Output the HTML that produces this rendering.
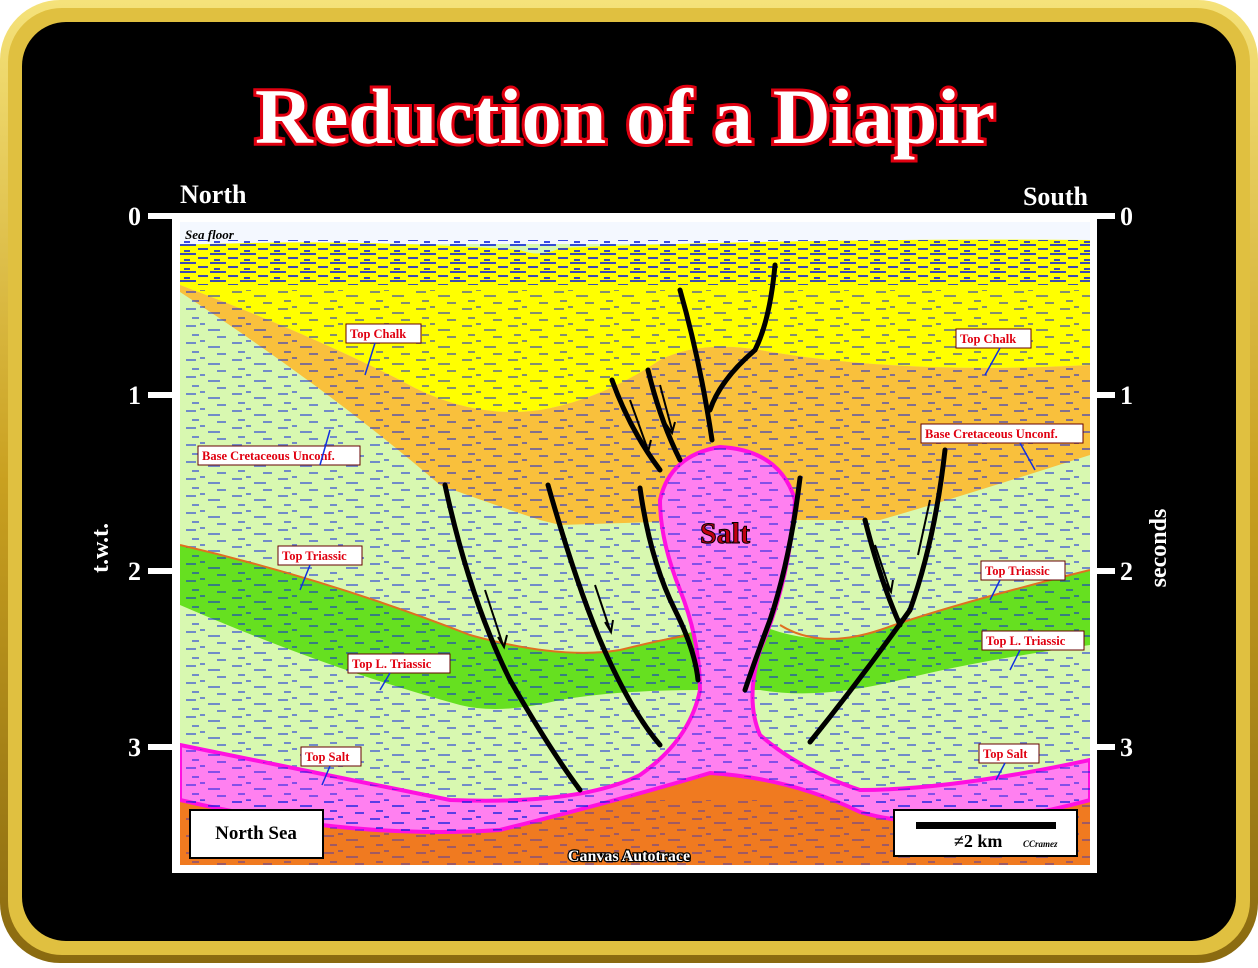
<!DOCTYPE html>
<html><head><meta charset="utf-8"><style>
html,body{margin:0;padding:0;background:#fff;}
body{width:1258px;height:963px;overflow:hidden;}
</style></head><body>
<svg width="1258" height="963" viewBox="0 0 1258 963" xmlns="http://www.w3.org/2000/svg" font-family="Liberation Serif, serif">
<defs>
<linearGradient id="gold" x1="0" y1="0" x2="0" y2="1">
<stop offset="0" stop-color="#f5e27a"/><stop offset="0.5" stop-color="#c9a020"/><stop offset="1" stop-color="#8a6a10"/>
</linearGradient>
<pattern id="noise" width="46" height="17" patternUnits="userSpaceOnUse">
<path d="M2 3h10M24 7h12M8 12h7M33 14h9M16 1h5" stroke="#0a1ee0" stroke-width="2"/>
</pattern>
<pattern id="noise2" width="30" height="9" patternUnits="userSpaceOnUse">
<path d="M0 2h16M18 6h10M4 8h6" stroke="#0a1ee0" stroke-width="2"/>
</pattern>
<clipPath id="c"><rect x="180" y="222" width="910" height="643"/></clipPath>
</defs>
<rect x="0" y="0" width="1258" height="963" rx="60" fill="url(#gold)"/>
<rect x="8" y="8" width="1242" height="947" rx="54" fill="#e0c040"/>
<rect x="22" y="22" width="1214" height="919" rx="44" fill="#000"/>
<text x="625" y="143" text-anchor="middle" font-size="78" font-weight="bold" fill="#fff" stroke="#e00010" stroke-width="6" paint-order="stroke" textLength="740" lengthAdjust="spacingAndGlyphs">Reduction of a Diapir</text>
<text x="180" y="203" font-size="26" font-weight="bold" fill="#fff">North</text>
<text x="1088" y="205" font-size="26" font-weight="bold" fill="#fff" text-anchor="end">South</text>
<rect x="172" y="213" width="925" height="660" fill="#fff"/>
<g clip-path="url(#c)">
<rect x="180" y="222" width="910" height="643" fill="#d8f8b0"/>
<rect x="180" y="222" width="910" height="22" fill="#f4f8ff"/>
<path d="M180 245 Q350 238 520 250 Q540 258 560 248 Q800 238 1090 240 L1090 365 Q900 375 760 350 Q700 340 660 360 Q600 400 540 410 Q470 420 400 380 Q300 330 180 285 Z" fill="#ffff00"/>
<rect x="180" y="240" width="910" height="45" fill="url(#noise2)" opacity="0.8"/>
<path d="M180 285 Q300 330 400 380 Q470 420 540 410 Q600 400 660 360 Q700 340 760 350 Q900 375 1090 365 L1090 455 Q950 500 880 520 Q800 520 720 520 L560 525 L540 520 Q480 500 440 485 Q330 390 180 292 Z" fill="#f9c03c"/>
<path d="M180 545 Q330 580 470 635 Q560 660 620 650 Q660 640 700 630 L760 625 Q820 650 880 630 Q950 605 1090 570 L1090 645 Q980 660 900 680 Q820 700 760 690 L700 690 Q620 690 560 700 Q500 715 460 705 Q330 670 180 605 Z" fill="#66e020"/>
<rect x="180" y="290" width="910" height="575" fill="url(#noise)" opacity="0.5"/>
<path d="M180 800 Q350 840 500 830 Q620 800 710 773 Q790 778 860 812 Q950 838 1090 800 L1090 865 L180 865 Z" fill="#f07a20"/>
<path d="M180 745 Q300 770 450 800 Q580 805 640 775 Q690 740 700 690 Q700 640 680 590 Q660 540 660 500 Q670 455 720 447 Q780 450 795 500 Q790 580 760 650 Q745 700 760 735 Q800 770 860 790 Q950 790 1090 760 L1090 800 Q950 838 860 812 Q790 778 710 773 Q620 800 500 830 Q350 840 180 800 Z" fill="#ff80f0" stroke="#ff10e0" stroke-width="4"/>
<path d="M180 745 Q300 770 450 800 Q580 805 640 775 Q690 740 700 690 Q700 640 680 590 Q660 540 660 500 Q670 455 720 447 Q780 450 795 500 Q790 580 760 650 Q745 700 760 735 Q800 770 860 790 Q950 790 1090 760 L1090 800 Q950 838 860 812 Q790 778 710 773 Q620 800 500 830 Q350 840 180 800 Z" fill="url(#noise)" opacity="0.5"/>
<rect x="180" y="800" width="910" height="65" fill="url(#noise)" opacity="0.35"/>
<path d="M180 545 Q330 580 470 635 Q560 660 620 650 Q660 640 690 635" stroke="#e07020" stroke-width="2" fill="none"/>
<path d="M780 625 Q820 650 880 630 Q950 605 1090 570" stroke="#e07020" stroke-width="2" fill="none"/>
</g>
<g stroke="#000" stroke-width="5" fill="none" stroke-linecap="round">
<path d="M680 290 Q700 360 712 440"/>
<path d="M775 265 Q770 320 755 350 Q720 380 710 410"/>
<path d="M612 380 Q630 430 660 470"/>
<path d="M648 370 Q660 420 680 460"/>
<path d="M640 488 Q650 560 675 610 Q695 650 698 680"/>
<path d="M800 478 Q790 560 770 620 Q755 660 745 690"/>
<path d="M445 485 Q470 600 510 680 Q550 750 580 790"/>
<path d="M548 485 Q575 580 600 640 Q630 710 660 745"/>
<path d="M865 520 Q880 580 900 625"/>
<path d="M945 450 Q935 540 910 610 Q860 680 810 742"/>
</g>
<g stroke="#000" stroke-width="2" fill="none">
<path d="M630 400 L648 450 M642 442 L648 452 L651 440"/>
<path d="M660 385 L672 430 M666 424 L672 433 L675 422"/>
<path d="M485 590 L503 645 M498 637 L504 647 L507 635"/>
<path d="M595 585 L610 630 M605 622 L611 632 L613 620"/>
<path d="M875 545 L890 590 M885 583 L891 592 L893 580"/>
<path d="M930 500 L918 555"/>
</g>
<text x="725" y="543" text-anchor="middle" font-size="30" font-weight="bold" fill="#c00010" stroke="#000" stroke-width="1">Salt</text>
<text x="185" y="239" font-size="13" font-weight="bold" font-style="italic" fill="#000">Sea floor</text>
<g font-size="12.5" font-weight="bold" fill="#e00010">
<rect x="346" y="324" width="75" height="19" fill="#fff" stroke="#600" stroke-width="1"/><text x="350" y="338">Top Chalk</text>
<rect x="956" y="329" width="75" height="19" fill="#fff" stroke="#600"/><text x="960" y="343">Top Chalk</text>
<rect x="198" y="446" width="162" height="19" fill="#fff" stroke="#600"/><text x="202" y="460">Base Cretaceous Unconf.</text>
<rect x="921" y="424" width="162" height="19" fill="#fff" stroke="#600"/><text x="925" y="438">Base Cretaceous Unconf.</text>
<rect x="278" y="546" width="84" height="19" fill="#fff" stroke="#600"/><text x="282" y="560">Top Triassic</text>
<rect x="981" y="561" width="84" height="19" fill="#fff" stroke="#600"/><text x="985" y="575">Top Triassic</text>
<rect x="348" y="654" width="102" height="19" fill="#fff" stroke="#600"/><text x="352" y="668">Top L. Triassic</text>
<rect x="982" y="631" width="102" height="19" fill="#fff" stroke="#600"/><text x="986" y="645">Top L. Triassic</text>
<rect x="301" y="747" width="60" height="19" fill="#fff" stroke="#600"/><text x="305" y="761">Top Salt</text>
<rect x="979" y="744" width="60" height="19" fill="#fff" stroke="#600"/><text x="983" y="758">Top Salt</text>
</g>
<g stroke="#1030e0" stroke-width="1.5">
<path d="M375 343 L365 375 M320 465 L330 430 M310 565 L300 590 M1000 348 L985 375 M1020 443 L1035 470 M1000 580 L990 600 M1020 650 L1010 670 M390 673 L380 690 M330 766 L322 785 M1005 763 L996 780"/>
</g>
<rect x="190" y="810" width="133" height="48" fill="#fff" stroke="#000" stroke-width="2"/>
<text x="256" y="839" text-anchor="middle" font-size="19" font-weight="bold">North Sea</text>
<rect x="894" y="810" width="183" height="46" fill="#fff" stroke="#000" stroke-width="2"/>
<rect x="916" y="822" width="140" height="7" fill="#000"/>
<text x="954" y="847" font-size="18" font-weight="bold">≠2 km</text>
<text x="1023" y="847" font-size="9" font-weight="bold" font-style="italic">CCramez</text>
<text x="629" y="861" text-anchor="middle" font-size="16" font-weight="bold" fill="#fff" stroke="#000" stroke-width="2.5" paint-order="stroke">Canvas Autotrace</text>
<g fill="#fff" font-size="26" font-weight="bold">
<rect x="148" y="213" width="24" height="6"/><text x="128" y="225">0</text>
<rect x="148" y="392" width="24" height="6"/><text x="128" y="404">1</text>
<rect x="148" y="568" width="24" height="6"/><text x="128" y="580">2</text>
<rect x="148" y="744" width="24" height="6"/><text x="128" y="756">3</text>
<rect x="1097" y="213" width="18" height="6"/><text x="1120" y="225">0</text>
<rect x="1097" y="392" width="18" height="6"/><text x="1120" y="404">1</text>
<rect x="1097" y="568" width="18" height="6"/><text x="1120" y="580">2</text>
<rect x="1097" y="744" width="18" height="6"/><text x="1120" y="756">3</text>
<text transform="translate(108 548) rotate(-90)" text-anchor="middle" font-size="24">t.w.t.</text>
<text transform="translate(1166 548) rotate(-90)" text-anchor="middle" font-size="24">seconds</text>
</g>
</svg>
</body></html>
